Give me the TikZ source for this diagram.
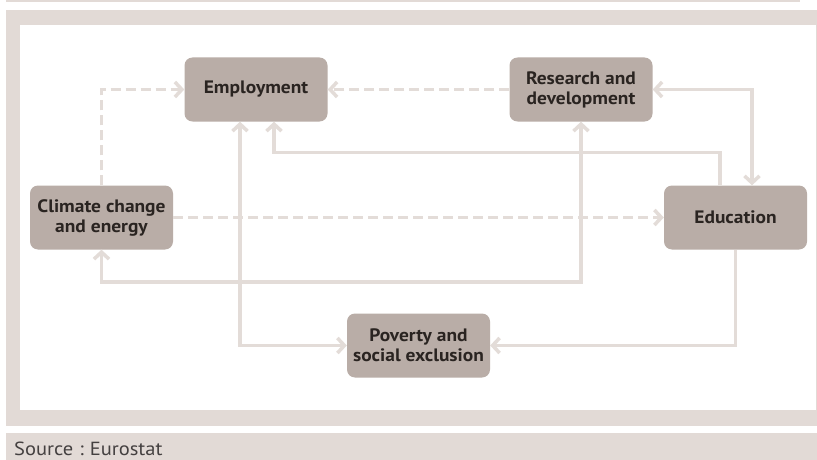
\documentclass[tikz,border=0pt]{standalone}
\usepackage{fontspec}
\setmainfont{PT Sans}[FakeStretch=1.08]
\usetikzlibrary{arrows.meta,calc}
\definecolor{framegray}{HTML}{E2DAD6}
\definecolor{linkgray}{HTML}{E3DCD8}
\definecolor{boxfill}{HTML}{B9ADA7}
\definecolor{labeltext}{HTML}{2A2421}
\definecolor{sourcetext}{HTML}{444040}
\tikzset{
  topic/.style={draw=none, fill=boxfill, rounded corners=8pt, minimum width=143pt,
    minimum height=64pt, inner sep=0pt, align=center, text=labeltext,
    font=\bfseries\fontsize{18}{20}\selectfont},
  link/.style={draw=linkgray, line width=3.5pt,
    arrows={-{Straight Barb[length=7pt,width=15pt]}}},
  dualink/.style={link, arrows={{Straight Barb[length=7pt,width=15pt]}-{Straight Barb[length=7pt,width=15pt]}}},
  dashlink/.style={link, dash pattern=on 10pt off 5pt},
}
\begin{document}
\begin{tikzpicture}[x=1pt,y=-1pt]
\useasboundingbox (0,0) rectangle (817,460);
% frame and source strip
\draw[framegray, line width=1.6pt] (6,0.8) -- (800,0.8);
\fill[framegray] (6,10) rectangle (817,426);
\fill[white] (20,25) rectangle (816,410);
\fill[framegray] (6,433) rectangle (817,460);
\node[anchor=base west, inner sep=0pt, text=sourcetext,
  font=\fontsize{19}{20}\selectfont]
  (src) at (14,455) {Source\hspace{6pt}:\hspace{6pt}Eurostat};
% topics
\node[topic] (emp)  at (256,89.5)    {Employment};
\node[topic] (rd)   at (581,89.5)    {Research and\\development};
\node[topic] (clim) at (101.5,217.5) {Climate change\\and energy};
\node[topic] (edu)  at (735.5,217.5) {Education};
\node[topic] (pov)  at (418.5,345.5) {Poverty and\\social exclusion};
% links
\draw[dashlink] (clim.north) |- (emp.west);
\draw[dashlink] (rd.west) -- (emp.east);
\draw[dashlink] (clim.east) -- (edu.west);
\draw[dualink] (rd.east) -| ([xshift=16.5pt]edu.north);
\draw[link] ([xshift=-15.5pt]edu.north) |- ($(emp.south)+(18,31)$) -- ([xshift=18pt]emp.south);
\draw[dualink] ([xshift=-16pt]emp.south) |- (pov.west);
\draw[dualink] (clim.south) -- ++(0,32.5) -| (rd.south);
\draw[link] (edu.south) |- (pov.east);
\end{tikzpicture}
\end{document}
